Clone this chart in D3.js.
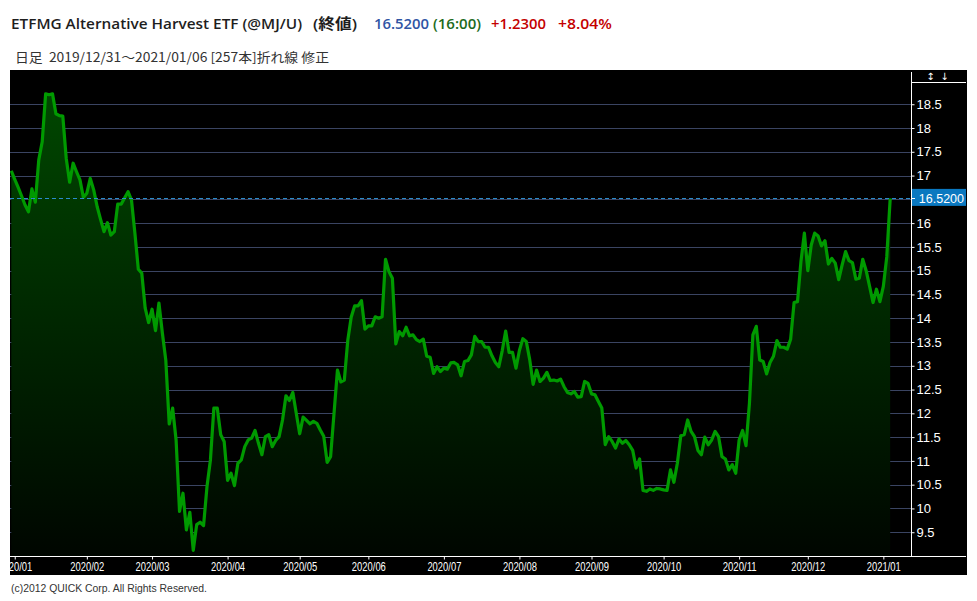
<!DOCTYPE html>
<html><head><meta charset="utf-8">
<script src="https://cdn.jsdelivr.net/npm/d3@7"></script>
<style>
html,body{margin:0;padding:0;background:#fff;}
svg{display:block;}
text{white-space:pre;}
</style></head>
<body>
<svg id="c" width="977" height="601"></svg>
<script>
// ---- data ----
const closes = [
17.10,16.92,16.75,16.57,16.38,16.24,16.72,16.44,17.33,17.71,
18.72,18.70,18.72,18.30,18.26,18.25,17.36,16.86,17.26,17.08,
16.91,16.54,16.63,16.94,16.70,16.35,16.08,15.82,16.01,15.75,
15.82,16.40,16.40,16.53,16.66,16.49,15.79,15.03,14.95,14.21,
13.91,14.19,13.74,14.32,13.69,13.12,11.78,12.11,11.44,9.94,
10.32,9.55,9.92,9.12,9.66,9.71,9.64,10.46,11.02,12.11,
12.11,11.55,11.41,10.59,10.74,10.48,10.95,11.02,11.30,11.44,
11.48,11.64,11.37,11.13,11.51,11.55,11.30,11.43,11.51,11.86,
12.37,12.27,12.44,12.00,11.57,11.92,11.85,11.78,11.83,11.79,
11.65,11.52,10.97,11.09,12.00,12.91,12.66,12.70,13.53,14.02,
14.26,14.26,14.37,13.77,13.84,13.84,14.03,14.00,14.03,15.24,
14.98,14.84,13.46,13.72,13.63,13.81,13.63,13.65,13.55,13.51,
13.56,13.20,13.18,12.84,12.98,12.88,12.95,12.93,13.06,13.07,
13.02,12.79,13.09,13.11,13.23,13.62,13.51,13.51,13.39,13.39,
13.21,13.07,12.98,13.32,13.73,13.28,13.28,12.95,13.32,13.57,
13.51,13.13,12.61,12.91,12.67,12.74,12.86,12.69,12.70,12.68,
12.72,12.56,12.44,12.41,12.46,12.34,12.35,12.67,12.63,12.41,
12.39,12.25,12.11,11.34,11.51,11.41,11.27,11.46,11.37,11.43,
11.34,11.22,10.85,11.04,10.38,10.36,10.41,10.38,10.42,10.41,
10.39,10.38,10.81,10.55,10.95,11.53,11.55,11.86,11.62,11.51,
11.22,11.13,11.50,11.34,11.44,11.62,11.51,11.09,11.04,10.81,
10.92,10.74,11.44,11.64,11.32,12.21,13.65,13.83,13.12,13.09,
12.83,13.07,13.20,13.53,13.39,13.39,13.35,13.56,14.33,14.35,
15.19,15.79,15.00,15.54,15.79,15.73,15.52,15.63,15.14,15.26,
15.16,14.81,15.12,15.40,15.21,15.17,14.82,14.84,15.24,15.00,
14.67,14.33,14.61,14.35,14.67,15.29,16.52
];
const monthLabels = ["2020/01","2020/02","2020/03","2020/04","2020/05","2020/06","2020/07","2020/08","2020/09","2020/10","2020/11","2020/12","2021/01"];
const monthStartIdx = [1,22,41,63,84,104,126,148,169,190,212,232,254];
const yTicks = [9.5,10,10.5,11,11.5,12,12.5,13,13.5,14,14.5,15,15.5,16,16.5,17,17.5,18,18.5];
const lastPrice = 16.52;
const titleParts = [
  {t:"ETFMG Alternative Harvest ETF (@MJ/U)", c:"#1e1e1e"},
  {t:"(終値)", c:"#1e1e1e"},
  {t:"16.5200", c:"#2f55a4"},
  {t:"(16:00)", c:"#1d6b1d"},
  {t:"+1.2300", c:"#c40000"},
  {t:"+8.04%", c:"#c40000"}
];
const subtitle = "日足  2019/12/31〜2021/01/06 [257本]折れ線 修正";
const copyright = "(c)2012 QUICK Corp. All Rights Reserved.";

// ---- layout ----
const svg = d3.select("#c");
const L = 10, R = 912, T = 70, B = 556;
const x = d3.scaleLinear().domain([0, closes.length - 1]).range([11.3, 890.2]);
const y = d3.scaleLinear().domain([9.0, 19.22]).range([B, T]);

svg.append("rect").attr("width",977).attr("height",601).attr("fill","#fff");
svg.append("rect").attr("x",L).attr("y",T).attr("width",957).attr("height",505).attr("fill","#000");

const defs = svg.append("defs");
const grad = defs.append("linearGradient").attr("id","g").attr("gradientUnits","userSpaceOnUse")
  .attr("x1",0).attr("x2",0).attr("y1",T).attr("y2",B);
grad.append("stop").attr("offset","0").attr("stop-color","rgb(0,74,0)");
grad.append("stop").attr("offset","1").attr("stop-color","rgb(0,6,0)");
defs.append("clipPath").attr("id","pc").append("rect").attr("x",L).attr("y",T).attr("width",R-L).attr("height",B-T);
defs.append("clipPath").attr("id","xc").append("rect").attr("x",L).attr("y",B).attr("width",957).attr("height",20);

// grid
svg.append("g").selectAll("line").data(yTicks).join("line")
  .attr("x1",L).attr("x2",R).attr("y1",d=>Math.round(y(d))+0.5).attr("y2",d=>Math.round(y(d))+0.5)
  .attr("stroke","#3a4462").attr("stroke-width",1);

// area + line
const g = svg.append("g").attr("clip-path","url(#pc)");
g.append("path").datum(closes)
  .attr("d", d3.area().x((d,i)=>x(i)).y0(B).y1(d=>y(d)))
  .attr("fill","url(#g)");
g.append("path").datum(closes)
  .attr("d", d3.line().x((d,i)=>x(i)).y(d=>y(d)))
  .attr("fill","none").attr("stroke","#009a00").attr("stroke-width",3.2).attr("stroke-linejoin","round");

// last price dashed line
svg.append("line").attr("x1",L).attr("x2",R).attr("y1",Math.round(y(lastPrice))+0.5).attr("y2",Math.round(y(lastPrice))+0.5)
  .attr("stroke","#2a8ccc").attr("stroke-width",1).attr("stroke-dasharray","4,3");

// y axis
const ya = svg.append("g").attr("transform",`translate(${R - 0.5},0)`)
  .call(d3.axisRight(y).tickValues(yTicks).tickSize(3).tickPadding(2).tickFormat(d=>d===16.5?"":String(d)));
ya.select(".domain").remove();
ya.selectAll("line").attr("stroke","#fff");
ya.selectAll("text").attr("fill","#fff").attr("font-family","'Liberation Sans',Arial,sans-serif").attr("font-size",13);
svg.append("line").attr("x1",R-0.5).attr("x2",R-0.5).attr("y1",72).attr("y2",B).attr("stroke","#fff");
svg.append("line").attr("x1",R-0.5).attr("x2",966).attr("y1",82.5).attr("y2",82.5).attr("stroke","#fff");
svg.append("text").attr("x",930.5).attr("y",80).attr("text-anchor","middle").attr("fill","#fff")
  .attr("font-family","'DejaVu Sans',sans-serif").attr("font-size",10).text("↕");
svg.append("text").attr("x",944.5).attr("y",80).attr("text-anchor","middle").attr("fill","#fff")
  .attr("font-family","'DejaVu Sans',sans-serif").attr("font-size",10).text("↓");

// price box
const py = y(lastPrice);
svg.append("rect").attr("x",R).attr("y",py-9.5).attr("width",54).attr("height",17).attr("fill","#0a78c0");
svg.append("line").attr("x1",R).attr("x2",R+3).attr("y1",Math.round(py)+0.5).attr("y2",Math.round(py)+0.5).attr("stroke","#fff");
svg.append("text").attr("x",964).attr("y",py+4.5).attr("text-anchor","end").attr("fill","#fff")
  .attr("font-family","'Liberation Sans',Arial,sans-serif").attr("font-size",12.5).text(lastPrice.toFixed(4));

// x axis
svg.append("line").attr("x1",L).attr("x2",966).attr("y1",B+0.5).attr("y2",B+0.5).attr("stroke","#fff");
const xwrap = svg.append("g").attr("clip-path","url(#xc)");
const xa = xwrap.append("g").attr("transform",`translate(0,${B+0.5})`)
  .call(d3.axisBottom(x).tickValues(monthStartIdx).tickSize(3).tickPadding(2).tickFormat((d,i)=>monthLabels[i]));
xa.select(".domain").remove();
xa.selectAll("line").attr("stroke","#fff");
xa.selectAll("text").attr("fill","#fff").attr("font-family","'Liberation Sans Narrow','Liberation Sans',Arial,sans-serif")
  .attr("font-size",12.5).attr("textLength",34).attr("lengthAdjust","spacingAndGlyphs").attr("dy","0.78em");

// titles
const tf = "'Open Sans','Noto Sans CJK JP',sans-serif";
const tx = [11, 313, 374, 433, 491, 558];
const tw = [291, 44, 55, 48, 55, 54];
titleParts.forEach((p,i)=>{
  svg.append("text").attr("x",tx[i]).attr("y",29).attr("fill",p.c)
    .attr("font-family",tf).attr("font-size",14.5).attr("font-weight",600)
    .attr("textLength",tw[i]).attr("lengthAdjust","spacingAndGlyphs").text(p.t);
});
svg.append("text").attr("x",15).attr("y",62).attr("fill","#333")
  .attr("font-family","'Noto Sans CJK JP','Open Sans',sans-serif").attr("font-size",13)
  .attr("textLength",314).attr("lengthAdjust","spacingAndGlyphs").text(subtitle);
svg.append("text").attr("x",11).attr("y",592).attr("fill","#333")
  .attr("font-family","'Liberation Sans Narrow','Liberation Sans',Arial,sans-serif").attr("font-size",11.5)
  .attr("textLength",196).attr("lengthAdjust","spacingAndGlyphs").text(copyright);
</script>
</body></html>
